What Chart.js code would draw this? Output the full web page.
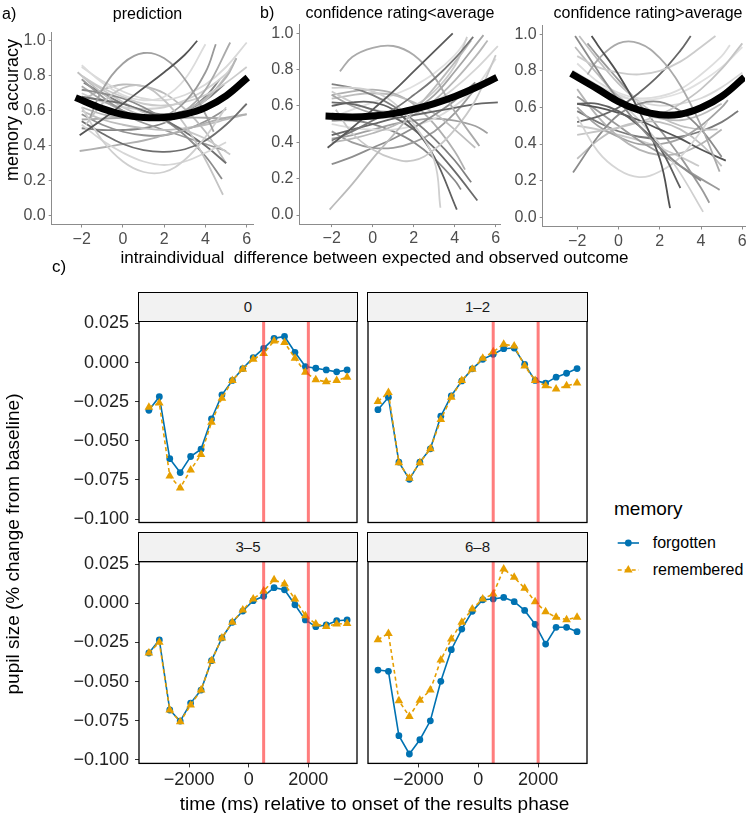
<!DOCTYPE html>
<html><head><meta charset="utf-8">
<script src="https://cdn.jsdelivr.net/npm/chart.js@4.4.1/dist/chart.umd.min.js"></script>
<style>
html,body{margin:0;padding:0;background:#fff;}
#stage{position:relative;width:751px;height:813px;overflow:hidden;font-family:'Liberation Sans',Arial,Helvetica,sans-serif;}
#stage canvas{position:absolute;}
.t{position:absolute;white-space:pre;line-height:1;color:#000;}
.strip{position:absolute;background:#f2f2f2;border:1.2px solid #000;box-sizing:border-box;text-align:center;color:#1a1a1a;font-size:15px;z-index:5;}
</style></head><body><div id="stage"></div>
<script>
// ---------------- data: panels a, b (individual quadratic fits) ----------------
const diffTicks = [-2, 0, 2, 4, 6];
const accuracyTicks = [0, 0.2, 0.4, 0.6, 0.8, 1.0];

const predictionCurves = [
 [[-2.1,.46],[-1,.55],[0,.64],[1,.73],[2,.82],[3,.92],[3.6,1.0]],
 [[-1.6,.56],[-1,.72],[0,.87],[1,.93],[2,.90],[3,.78],[4,.58],[4.4,.48]],
 [[-1.8,.52],[-1,.64],[0,.73],[1,.74],[2,.66],[3,.52],[4,.32],[4.85,.12]],
 [[-2,.62],[-1,.43],[0,.31],[1,.25],[2,.25],[3,.32],[4,.45],[5,.62]],
 [[-2,.54],[-1,.47],[0,.41],[1,.375],[2,.365],[3,.38],[4,.43],[5,.52],[6,.64]],
 [[-2,.52],[-1,.43],[0,.36],[1,.31],[2,.29],[3,.31],[4,.36],[5,.42]],
 [[-2.1,.37],[-1,.39],[0,.41],[1,.43],[2,.46],[3,.49],[4,.53],[5,.56],[6,.58]],
 [[-2,.68],[-1,.66],[0,.64],[1,.60],[2,.55],[3,.48],[4,.40],[5,.30]],
 [[-2,.72],[-1,.70],[0,.67],[1,.62],[2,.55],[3,.46],[4,.34],[4.8,.21]],
 [[-2,.80],[-1,.72],[0,.65],[1,.59],[2,.54],[3,.49],[4,.44],[5.2,.35]],
 [[-2,.86],[-1,.76],[0,.69],[1,.66],[2,.68],[3,.78],[4,.98]],
 [[-2,.78],[-1,.68],[0,.60],[1,.56],[2,.57],[3,.65],[4,.82],[4.5,.98]],
 [[-2,.74],[-1,.66],[0,.60],[1,.56],[2,.56],[3,.60],[4,.72],[5.2,.99]],
 [[-2,.85],[-1,.77],[0,.71],[1,.67],[2,.66],[3,.69],[4,.75],[5,.85],[6,.99]],
 [[-2,.80],[-1,.73],[0,.68],[1,.64],[2,.63],[3,.65],[4,.69],[5,.76],[6,.85]],
 [[-2,.60],[-1,.55],[0,.52],[1,.50],[2,.49],[3,.50],[4,.52],[5,.55],[6,.58]],
 [[-2,.55],[-1,.555],[0,.56],[1,.56],[2,.56],[3,.56],[4,.56],[5,.555]],
 [[-2,.66],[-1,.62],[0,.58],[1,.53],[2,.49],[3,.45],[4,.41],[5,.37]],
 [[-2,.66],[-1,.72],[0,.75],[1,.74],[2,.70],[3,.61],[4,.48],[5,.30]],
 [[-2,.62],[-1,.58],[0,.56],[1,.55],[2,.56],[3,.60],[4,.67],[5,.79],[5.5,.90]],
 [[-2,.58],[-1,.52],[0,.48],[1,.46],[2,.46],[3,.49],[4,.54],[5,.61]],
 [[-2,.70],[-1,.65],[0,.62],[1,.61],[2,.62],[3,.66],[4,.72],[5,.81],[5.3,.86]],
 [[-2.2,.82],[-1,.70],[0,.62],[1,.57],[2,.55],[3,.58],[4,.66],[5,.80],[5.5,.90]],
 [[-1.9,.76],[-1,.70],[0,.64],[1,.60],[2,.58],[3,.60],[4,.66],[4.9,.75]],
 [[-2,.50],[-1,.49],[0,.49],[1,.50],[2,.53],[3,.59],[4,.68],[4.7,.78]]
];
const predictionGreys = ['#555','#a0a0a0','#c4c4c4','#cfcfcf','#6e6e6e','#d6d6d6','#b0b0b0','#707070','#8c8c8c','#c8c8c8','#dcdcdc','#999','#aaa','#d9d9d9','#ccc','#bdbdbd','#a8a8a8','#9a9a9a','#bcbcbc','#b5b5b5','#929292','#d0d0d0','#c0c0c0','#7d7d7d','#858585'];
const predictionMean = [[-2.3,.675],[-1,.612],[0,.578],[1,.562],[2,.562],[3,.58],[4,.618],[5,.685],[6.05,.79]];

const lowConfidenceCurves = [
 [[-2.2,.37],[-1,.48],[0,.58],[1,.68],[2,.79],[3,.90],[3.9,1.0]],
 [[-2,.41],[-1,.46],[0,.52],[1,.58],[2,.66],[3,.75],[4,.86],[4.9,.98]],
 [[-2.1,.03],[-1,.17],[0,.31],[1,.44],[2,.57],[3,.70],[4,.84],[4.8,.96]],
 [[-1.6,.79],[-1,.87],[0,.92],[1,.93],[2,.88],[3,.76],[4,.57],[5.2,.38]],
 [[-1.8,.58],[-1,.45],[0,.36],[1,.31],[2,.30],[3,.36],[4,.47],[5,.63],[6,.88]],
 [[-2,.70],[-1,.70],[0,.68],[1,.62],[2,.50],[3,.30],[3.3,.04]],
 [[-2,.60],[-1,.62],[0,.62],[1,.58],[2,.48],[3,.32],[4.1,.03]],
 [[-2,.62],[-1,.61],[0,.58],[1,.54],[2,.47],[3,.37],[4,.24],[5.1,.08]],
 [[-2,.72],[-1,.70],[0,.66],[1,.60],[2,.52],[3,.42],[4,.30],[4.8,.18]],
 [[-2,.44],[-1,.47],[0,.50],[1,.53],[2,.55],[3,.57],[4,.59],[5,.61],[6.1,.62]],
 [[-2,.68],[-1,.62],[0,.58],[1,.57],[2,.60],[3,.68],[4,.82],[4.6,.98]],
 [[-2,.66],[-1,.60],[0,.56],[1,.55],[2,.58],[3,.66],[4,.79],[5.4,.99]],
 [[-2,.56],[-1,.54],[0,.53],[1,.54],[2,.57],[3,.62],[4,.70],[5,.80],[6.1,.93]],
 [[-2,.40],[-1,.42],[0,.45],[1,.49],[2,.55],[3,.63],[4,.74],[5,.87],[5.6,.96]],
 [[-2,.28],[-1,.32],[0,.37],[1,.42],[2,.48],[3,.55],[4,.63],[5,.73]],
 [[-2,.64],[-1,.66],[0,.67],[1,.66],[2,.62],[3,.56],[4,.47],[5,.37]],
 [[-2,.50],[-1,.48],[0,.47],[1,.47],[2,.49],[3,.53],[4,.60],[5,.70],[6,.86]],
 [[-2,.46],[-1,.40],[0,.37],[1,.37],[2,.40],[3,.46],[4,.56],[4.9,.68]],
 [[-2,.66],[-1,.68],[0,.69],[1,.67],[2,.61],[3,.50],[4,.35],[4.5,.25]],
 [[-1.9,.54],[-1,.58],[0,.62],[1,.66],[2,.71],[3,.78],[4,.88],[4.6,.97]],
 [[-2,.42],[-1,.44],[0,.47],[1,.50],[2,.52],[3,.53],[4,.52],[5,.49],[5.6,.45]],
 [[-2,.52],[-1,.52],[0,.50],[1,.46],[2,.40],[3,.31],[4,.19],[4.3,.14]]
];
const lowConfidenceGreys = ['#5a5a5a','#777','#bbb','#aaa','#c8c8c8','#cfcfcf','#606060','#6a6a6a','#808080','#666','#ccc','#a5a5a5','#d5d5d5','#b8b8b8','#8e8e8e','#bdbdbd','#dcdcdc','#9c9c9c','#b0b0b0','#e0e0e0','#a0a0a0','#888'];
const lowConfidenceMean = [[-2.3,.545],[-1,.54],[0,.545],[1,.558],[2,.582],[3,.613],[4,.652],[5,.70],[6.05,.757]];

const highConfidenceCurves = [
 [[-2.1,.99],[-1,.80],[0,.64],[1,.50],[2,.38],[3,.28],[4,.20]],
 [[-1.3,.99],[-1,.94],[0,.78],[1,.58],[2,.32],[2.5,.05]],
 [[-2,.62],[-1,.62],[0,.58],[1,.50],[2,.38],[3,.16]],
 [[-1.5,.78],[-1,.86],[0,.95],[1,.95],[2,.87],[3,.72],[4,.50],[4.9,.25]],
 [[-2,.55],[-1,.36],[0,.26],[1,.22],[2,.25],[3,.33],[4,.47],[4.3,.52]],
 [[-2,.88],[-1,.82],[0,.79],[1,.78],[2,.80],[3,.85],[4,.93],[4.7,.99]],
 [[-2,.52],[-1,.55],[0,.60],[1,.68],[2,.78],[3,.91],[3.5,.99]],
 [[-2,.45],[-1,.47],[0,.49],[1,.52],[2,.56],[3,.62],[4,.70],[5,.81],[6,.95]],
 [[-2.2,.245],[-1,.44],[0,.56],[1,.62],[2,.63],[3,.58],[4,.48],[5,.33]],
 [[-2,.62],[-1,.60],[0,.57],[1,.53],[2,.48],[3,.43],[4,.37],[5.2,.31]],
 [[-2,.78],[-1,.72],[0,.64],[1,.53],[2,.40],[3,.24],[4.1,.03]],
 [[-2,.66],[-1,.58],[0,.50],[1,.42],[2,.35],[3,.28],[4,.21],[4.9,.15]],
 [[-2.1,.93],[-1,.78],[0,.66],[1,.58],[2,.54],[3,.53],[4,.56],[5,.62]],
 [[-2,.84],[-1,.74],[0,.68],[1,.65],[2,.66],[3,.70],[4,.78],[5,.88],[5.4,.94]],
 [[-2,.70],[-1,.55],[0,.44],[1,.37],[2,.34],[3,.35],[4,.40],[5,.48]],
 [[-2,.60],[-1,.50],[0,.44],[1,.40],[2,.40],[3,.43],[4,.50],[5,.60],[5.3,.64]],
 [[-2.2,.80],[-1,.72],[0,.67],[1,.63],[2,.61],[3,.62],[4,.65],[5,.71],[6,.79]],
 [[-2,.32],[-1,.42],[0,.49],[1,.52],[2,.52],[3,.48],[4,.40],[5,.28]],
 [[-1.9,.99],[-1,.86],[0,.73],[1,.63],[2,.55],[3,.50],[4,.48],[4.8,.48]],
 [[-2,.58],[-1,.52],[0,.47],[1,.44],[2,.43],[3,.44],[4,.47],[5,.52],[5.8,.58]],
 [[-1.5,.95],[-1,.88],[0,.75],[1,.62],[2,.48],[3,.33],[4,.16],[4.4,.08]],
 [[-2,.50],[-1,.48],[0,.45],[1,.42],[2,.38],[3,.33],[3.9,.28]],
 [[-2,.76],[-1,.70],[0,.66],[1,.64],[2,.65],[3,.68],[4,.74],[5,.82],[6,.93]]
];
const highConfidenceGreys = ['#8a8a8a','#505050','#606060','#aaa','#d5d5d5','#ccc','#666','#c4c4c4','#8c8c8c','#555','#d0d0d0','#9a9a9a','#bbb','#ddd','#b5b5b5','#a3a3a3','#d8d8d8','#bfbfbf','#c0c0c0','#7a7a7a','#999','#cacaca','#e0e0e0'];
const highConfidenceMean = [[-2.3,.785],[-1,.70],[0,.632],[1,.585],[2,.56],[3,.563],[4,.598],[5,.66],[6.1,.765]];

// ---------------- data: panel c (pupil size over time) ----------------
const timeMs = [-3350,-3000,-2650,-2300,-1950,-1600,-1250,-900,-550,-200,150,500,850,1200,1550,1900,2250,2600,2950,3300];
const timeTicks = [-2000, 0, 2000];
const pupilTicks = [-0.1, -0.075, -0.05, -0.025, 0, 0.025];
const eventLinesMs = [500, 2000];

const forgotten0   = [-0.0305,-0.0218,-0.0614,-0.0703,-0.0600,-0.0553,-0.0360,-0.0206,-0.0114,-0.0038,0.0032,0.0091,0.0155,0.0167,0.0066,-0.0025,-0.0036,-0.0047,-0.0059,-0.0047];
const remembered0  = [-0.0286,-0.0258,-0.0725,-0.0801,-0.0686,-0.0587,-0.0381,-0.0227,-0.0114,-0.0042,0.0021,0.0059,0.0138,0.0129,0.0028,-0.0061,-0.0110,-0.0123,-0.0114,-0.0093];
const forgotten12  = [-0.0301,-0.0222,-0.0636,-0.0746,-0.0636,-0.0551,-0.0343,-0.0212,-0.0117,-0.0040,0.0021,0.0053,0.0089,0.0093,-0.0011,-0.0114,-0.0131,-0.0093,-0.0068,-0.0038];
const remembered12 = [-0.0248,-0.0191,-0.0640,-0.0739,-0.0640,-0.0551,-0.0364,-0.0222,-0.0114,-0.0042,0.0028,0.0070,0.0117,0.0106,-0.0021,-0.0114,-0.0148,-0.0169,-0.0148,-0.0131];
const forgotten35  = [-0.0317,-0.0234,-0.0681,-0.0752,-0.0637,-0.0554,-0.0366,-0.0221,-0.0121,-0.0049,0.0017,0.0045,0.0100,0.0087,-0.0009,-0.0106,-0.0149,-0.0138,-0.0111,-0.0106];
const remembered35 = [-0.0317,-0.0249,-0.0681,-0.0756,-0.0649,-0.0554,-0.0366,-0.0221,-0.0121,-0.0043,0.0028,0.0079,0.0151,0.0124,0.0028,-0.0079,-0.0132,-0.0147,-0.0132,-0.0128];
const forgotten68  = [-0.0426,-0.0434,-0.0845,-0.0962,-0.0871,-0.0750,-0.0498,-0.0296,-0.0164,-0.0051,0.0023,0.0028,0.0038,0.0011,-0.0045,-0.0134,-0.0260,-0.0153,-0.0153,-0.0181];
const remembered68 = [-0.0232,-0.0192,-0.0622,-0.0722,-0.0618,-0.0554,-0.0362,-0.0228,-0.0121,-0.0036,0.0028,0.0060,0.0219,0.0166,0.0096,0.0011,-0.0053,-0.0089,-0.0104,-0.0089];

// ---------------- helpers ----------------
const FONT = "'Liberation Sans', Arial, Helvetica, sans-serif";
const stage = document.getElementById('stage');
const signed = v => (v < 0 ? '\u2212' : '') + Math.abs(v);

function text(str, x, y, size, align, opts = {}) {
  const d = document.createElement('div');
  d.className = 't';
  d.textContent = str;
  d.style.left = x + 'px'; d.style.top = y + 'px';
  d.style.fontSize = size + 'px';
  if (opts.color) d.style.color = opts.color;
  const tx = align === 'left' ? '0' : align === 'right' ? '-100%' : '-50%';
  d.style.transform = `translate(${tx},-50%)` + (opts.rotate ? ' rotate(-90deg)' : '');
  stage.appendChild(d);
}
function place(box, area, config) {
  const c = document.createElement('canvas');
  c.width = box.w; c.height = box.h;
  c.style.left = box.x + 'px'; c.style.top = box.y + 'px';
  c.style.width = box.w + 'px'; c.style.height = box.h + 'px';
  stage.appendChild(c);
  const o = config.options;
  o.responsive = false; o.animation = false; o.events = [];
  o.layout = {padding: {left: 0, top: area.t - box.y, right: box.x + box.w - area.r, bottom: 0}};
  const yw = area.l - box.x, xh = box.y + box.h - area.b;
  o.scales.x.afterFit = s => { s.height = xh; };
  o.scales.y.afterFit = s => { s.width = yw; };
  o.plugins = Object.assign({legend: {display: false}, tooltip: {enabled: false}, title: {display: false}}, o.plugins || {});
  return new Chart(c, config);
}

// ---------------- top row ----------------
function topPanel(box, area, xRange, curves, greys, mean) {
  const ds = [{data: mean.map(([x, y]) => ({x, y})), borderColor: '#000', borderWidth: 7, pointRadius: 0, tension: 0.4, borderCapStyle: 'butt'}];
  curves.forEach((c, i) => ds.push({data: c.map(([x, y]) => ({x, y})), borderColor: greys[i], borderWidth: 1.8, pointRadius: 0, tension: 0.4}));
  const axisCol = '#8c8c8c';
  place(box, area, {
    type: 'line',
    data: {datasets: ds},
    options: {
      scales: {
        x: {type: 'linear', min: xRange[0], max: xRange[1],
            afterBuildTicks: s => { s.ticks = diffTicks.map(v => ({value: v})); },
            ticks: {callback: v => signed(v), color: '#4d4d4d', font: {family: FONT, size: 16}, padding: 2, maxRotation: 0, autoSkip: false},
            grid: {display: true, drawOnChartArea: false, drawTicks: true, tickLength: 3, color: axisCol},
            border: {display: true, color: axisCol, width: 1}},
        y: {type: 'linear', min: -0.05, max: 1.05,
            afterBuildTicks: s => { s.ticks = accuracyTicks.map(v => ({value: v})); },
            ticks: {callback: v => v.toFixed(1), color: '#4d4d4d', font: {family: FONT, size: 16}, padding: 3},
            grid: {display: true, drawOnChartArea: false, drawTicks: true, tickLength: 3, color: axisCol},
            border: {display: true, color: axisCol, width: 1}}
      }
    }
  });
}
topPanel({x: 0, y: 10, w: 262, h: 255}, {l: 51.7, t: 32, r: 253, b: 224.5}, [-3.455, 6.305], predictionCurves, predictionGreys, predictionMean);
topPanel({x: 255, y: 5, w: 252, h: 260}, {l: 299.5, t: 24.2, r: 500.5, b: 224.1}, [-3.57, 6.23], lowConfidenceCurves, lowConfidenceGreys, lowConfidenceMean);
topPanel({x: 500, y: 5, w: 251, h: 260}, {l: 542.7, t: 25, r: 745, b: 226.5}, [-3.67, 6.13], highConfidenceCurves, highConfidenceGreys, highConfidenceMean);

text('a)', 2, 14, 16, 'left');
text('prediction', 147.5, 13.5, 16, 'center');
text('b)', 260, 13, 16, 'left');
text('confidence rating<average', 400, 13, 16, 'center');
text('confidence rating>average', 648, 13, 16, 'center');
text('intraindividual  difference between expected and observed outcome', 374.5, 256.5, 17, 'center');
text('memory accuracy', 12, 110, 18, 'center', {rotate: true});

// ---------------- bottom facets ----------------
const framePlugin = {id: 'frame', afterDatasetsDraw(chart) {
  const {ctx, chartArea: a} = chart;
  ctx.save(); ctx.strokeStyle = '#000'; ctx.lineWidth = 1.3;
  ctx.strokeRect(a.left, a.top, a.right - a.left, a.bottom - a.top);
  ctx.restore();
}};
function facet(label, box, area, forgotten, remembered, showX, showY) {
  const ds = eventLinesMs.map(v => ({data: [{x: v, y: -1}, {x: v, y: 1}], borderColor: 'rgba(255,45,45,0.62)', borderWidth: 3, pointRadius: 0}));
  ds.push({label: 'remembered', data: timeMs.map((t, i) => ({x: t, y: remembered[i]})), borderColor: '#E69F00', backgroundColor: '#E69F00',
           borderDash: [4, 3], borderWidth: 1.6, pointStyle: 'triangle', pointRadius: 5, pointBorderWidth: 0, tension: 0});
  ds.push({label: 'forgotten', data: timeMs.map((t, i) => ({x: t, y: forgotten[i]})), borderColor: '#0072B2', backgroundColor: '#0072B2',
           borderWidth: 1.6, pointStyle: 'circle', pointRadius: 3.4, pointBorderWidth: 0, tension: 0});
  place(box, area, {
    type: 'line',
    data: {datasets: ds},
    plugins: [framePlugin],
    options: {
      scales: {
        x: {type: 'linear', min: -3682, max: 3632,
            afterBuildTicks: s => { s.ticks = timeTicks.map(v => ({value: v})); },
            ticks: {display: showX, callback: v => signed(v), color: '#222', font: {family: FONT, size: 18}, padding: 2, maxRotation: 0, autoSkip: false},
            grid: {display: showX, drawOnChartArea: false, drawTicks: true, tickLength: 4, color: '#333'},
            border: {display: false}},
        y: {type: 'linear', min: -0.1022, max: 0.0266,
            afterBuildTicks: s => { s.ticks = pupilTicks.map(v => ({value: v})); },
            ticks: {display: showY, callback: v => (v < 0 ? '\u2212' : '') + Math.abs(v).toFixed(3), color: '#222', font: {family: FONT, size: 18}, padding: 6},
            grid: {display: showY, drawOnChartArea: false, drawTicks: true, tickLength: 4, color: '#333'},
            border: {display: false}}
      }
    }
  });
  const s = document.createElement('div');
  s.className = 'strip';
  s.style.left = (area.l - 0.6) + 'px'; s.style.width = (area.r - area.l + 1.2) + 'px';
  s.style.top = (area.t - 29.3) + 'px'; s.style.height = '30px';
  s.style.lineHeight = '28px';
  s.textContent = label;
  stage.appendChild(s);
}
facet('0',   {x: 60, y: 296, w: 305, h: 256}, {l: 139, t: 321, r: 357, b: 522.5}, forgotten0, remembered0, false, true);
facet('1\u20132', {x: 362, y: 296, w: 240, h: 256}, {l: 368, t: 321, r: 587, b: 522.5}, forgotten12, remembered12, false, false);
facet('3\u20135', {x: 60, y: 536, w: 305, h: 270}, {l: 139, t: 561.7, r: 357, b: 763.4}, forgotten35, remembered35, true, true);
facet('6\u20138', {x: 362, y: 536, w: 240, h: 270}, {l: 368, t: 561.7, r: 587, b: 763.4}, forgotten68, remembered68, true, false);

text('c)', 52, 266, 17, 'left');
text('pupil size (% change from baseline)', 12, 544, 19, 'center', {rotate: true});
text('time (ms) relative to onset of the results phase', 374.5, 803, 19, 'center');

// legend
text('memory', 614, 508, 19, 'left');
const lg = document.createElementNS('http://www.w3.org/2000/svg', 'svg');
lg.setAttribute('width', '30'); lg.setAttribute('height', '46');
lg.style.position = 'absolute'; lg.style.left = '614px'; lg.style.top = '533px';
lg.innerHTML = '<line x1="3.7" y1="10" x2="25" y2="10" stroke="#0072B2" stroke-width="1.6"/><circle cx="14.3" cy="10" r="3.4" fill="#0072B2"/>' +
  '<line x1="3.7" y1="37" x2="25" y2="37" stroke="#E69F00" stroke-width="1.6" stroke-dasharray="4,3"/><polygon points="14.3,32 18.6,39.5 10,39.5" fill="#E69F00"/>';
stage.appendChild(lg);
text('forgotten', 652.7, 543, 16, 'left');
text('remembered', 652.7, 570, 16, 'left');
</script></body></html>
